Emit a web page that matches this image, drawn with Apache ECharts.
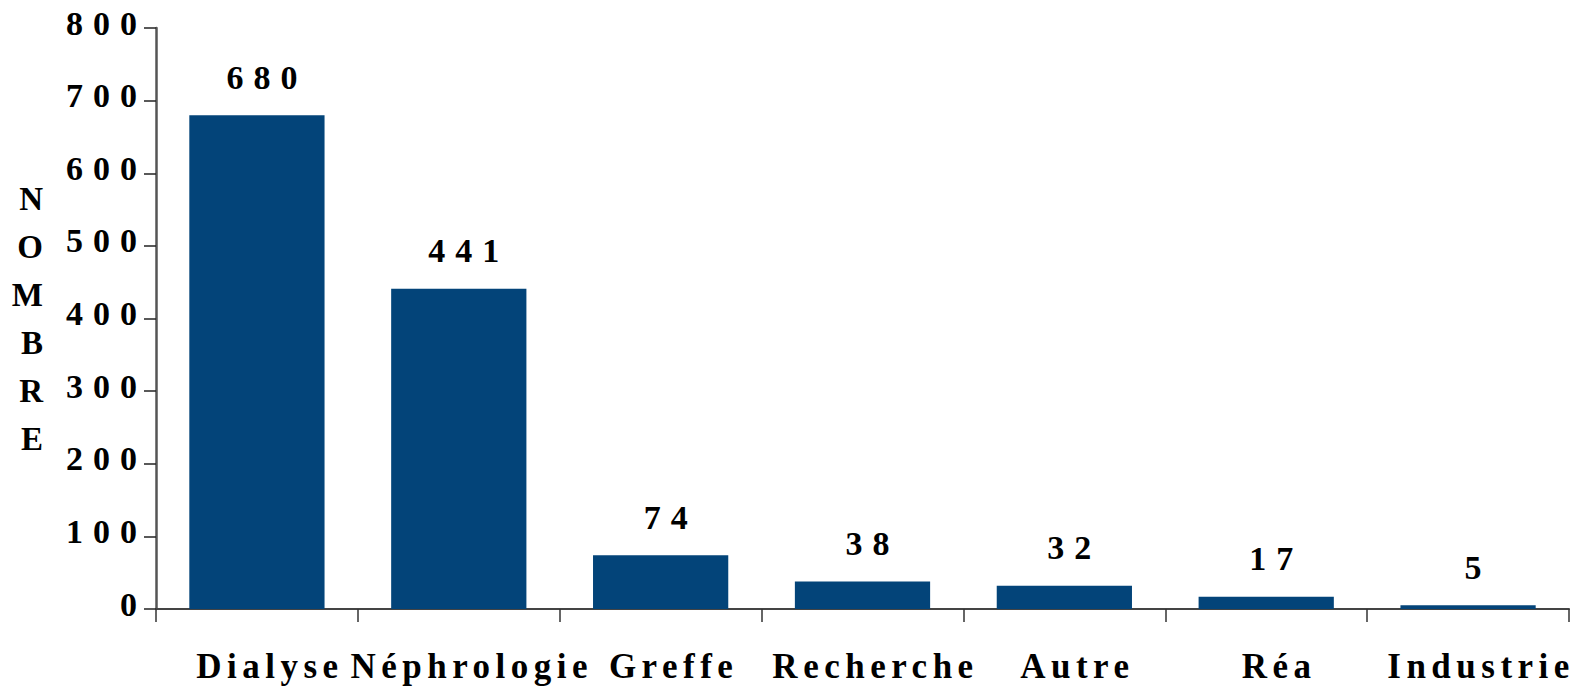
<!DOCTYPE html>
<html>
<head>
<meta charset="utf-8">
<script src="https://cdn.jsdelivr.net/npm/echarts@6/dist/echarts.min.js"></script>
<style>
html,body{margin:0;padding:0;background:#fff;}
#c{width:1574px;height:686px;}
#c text[style*="34px"]{letter-spacing:10px;}
#c text[style*="35px"]{letter-spacing:5.5px;}
</style>
</head>
<body>
<div id="c"></div>
<script>
const categories = ['Dialyse', 'Néphrologie', 'Greffe', 'Recherche', 'Autre', 'Réa', 'Industrie'];
const values = [680, 441, 74, 38, 32, 17, 5];
const yTicks = [0, 100, 200, 300, 400, 500, 600, 700, 800];
const yTitle = 'NOMBRE';

const chart = echarts.init(document.getElementById('c'), null, {renderer: 'svg'});
const font = 'Liberation Serif';
chart.setOption({
  animation: false,
  grid: {left: 156, right: 5, top: 28, bottom: 77},
  xAxis: {
    type: 'category',
    data: categories,
    boundaryGap: true,
    axisLine: {show: true, lineStyle: {color: '#444', width: 2}},
    axisTick: {show: true, length: 13, interval: 0, lineStyle: {color: '#333', width: 1.5}},
    axisLabel: {interval: 0, margin: 40, padding: [0, 0, 0, 26], color: '#000', fontFamily: font, fontWeight: 'bold', fontSize: 35},
    splitLine: {show: false}
  },
  yAxis: {
    type: 'value',
    min: yTicks[0],
    max: yTicks[yTicks.length - 1],
    interval: 100,
    name: yTitle.split('').join('\n'),
    nameLocation: 'middle',
    nameRotate: 0,
    nameGap: 113,
    nameTextStyle: {color: '#000', fontFamily: font, fontWeight: 'bold', fontSize: 33, lineHeight: 48},
    axisLine: {show: true, lineStyle: {color: '#555', width: 2.5}},
    axisTick: {show: true, length: 12, lineStyle: {color: '#222', width: 1.5}},
    axisLabel: {margin: 9, verticalAlign: 'bottom', lineHeight: 10, color: '#000', fontFamily: font, fontWeight: 'bold', fontSize: 34},
    splitLine: {show: false}
  },
  series: [{
    type: 'bar',
    data: values,
    barWidth: '67%',
    itemStyle: {color: '#034479'},
    label: {show: true, position: 'top', distance: 21, offset: [10, 0], color: '#000', fontFamily: font, fontWeight: 'bold', fontSize: 34}
  }]
});
</script>
</body>
</html>
